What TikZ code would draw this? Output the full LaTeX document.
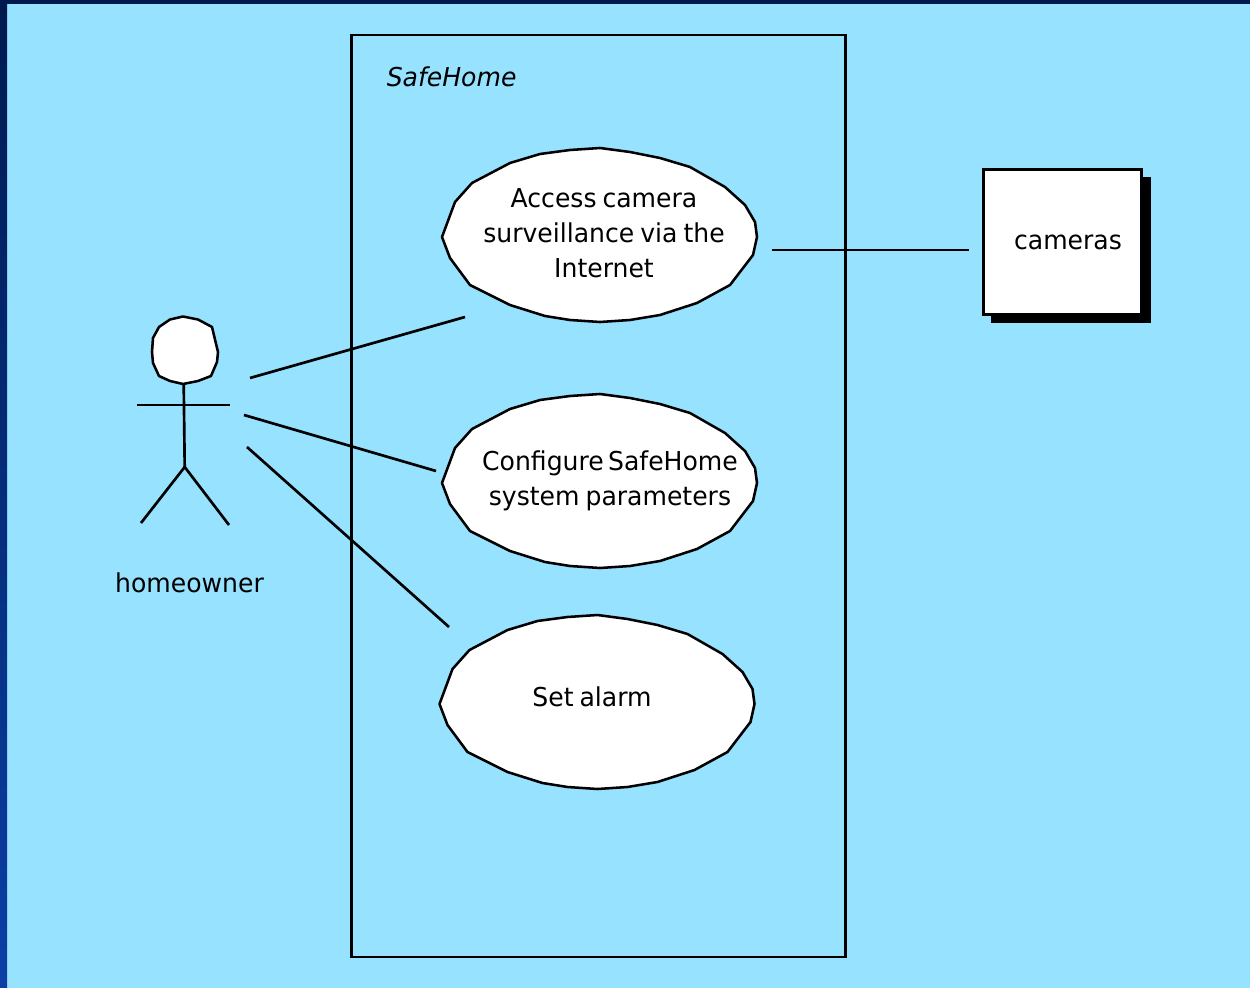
\documentclass[tikz,border=0pt]{standalone}
\usepackage{fontspec}
\setmainfont{DejaVu Sans}[FakeStretch=0.965,WordSpace=0.75]
\definecolor{skybg}{HTML}{96E2FF}
\definecolor{navytop}{HTML}{001A4F}
\definecolor{navybot}{HTML}{0A3FA5}
\newcommand{\ucaseshape}{(-158,2) -- (-145,-33) -- (-128,-52) -- (-90,-72) -- (-60,-81) -- (-30,-85) -- (0,-87) -- (30,-83) -- (60,-77) -- (90,-68) -- (125,-48) -- (145,-30) -- (155,-13) -- (157,2) -- (153,20) -- (130,50) -- (97,68) -- (60,80) -- (30,85) -- (0,87) -- (-30,85) -- (-55,81) -- (-90,70) -- (-130,50) -- (-150,23) -- cycle}
\tikzset{
  x=0.75pt,y=-0.75pt,
  line/.style={line width=2pt,black},
  usecase/.style={draw=black,line width=1.9pt,fill=white,line join=round},
  boxnode/.style={draw=black,line width=1.6pt,anchor=north west,inner sep=0pt,outer sep=0pt},
  txt/.style={font=\fontsize{19.5pt}{26.2pt}\selectfont,align=center,inner sep=0pt,text=black},
}
\begin{document}
\begin{tikzpicture}
\useasboundingbox (0,0) rectangle (1250,988);
\fill[skybg] (0,0) rectangle (1250,988);
\shade[top color=navytop,bottom color=navybot] (0,0) rectangle (7,988);
\fill[navytop] (0,0) rectangle (1250,4);
% system boundary
\node[boxnode,minimum width=0.75*494pt,minimum height=0.75*922pt] (system) at (351.5,35) {};
\node[txt,anchor=base west,font=\fontsize{19.5pt}{26pt}\selectfont\itshape] (syslabel) at (386.5,87) {SafeHome};
% use cases
\begin{scope}[shift={(600,235)}]
\draw[usecase] \ucaseshape;
\end{scope}
\begin{scope}[shift={(600,481)}]
\draw[usecase] \ucaseshape;
\end{scope}
\begin{scope}[shift={(597.5,702)}]
\draw[usecase] \ucaseshape;
\end{scope}
\node[txt] (uc1) at (604,233) {Access camera\\surveillance via the\\Internet};
\node[txt] (uc2) at (610,481) {Configure\,SafeHome\\system parameters};
\node[txt] (uc3) at (592,697) {Set alarm};
% cameras
\fill[black] (991,177) rectangle (1151,323);
\node[boxnode,fill=white,minimum width=0.75*158pt,minimum height=0.75*145pt] (camerabox) at (983.5,169.5) {};
\node[txt] (cameras) at (1068,242) {cameras};
% actor
\coordinate (neck) at (183.7,383);
\coordinate (hip) at (184.7,467);
\coordinate (armL) at (137,405);
\coordinate (armR) at (230,405);
\coordinate (legL) at (141,523);
\coordinate (legR) at (229,525);
\draw[usecase] (183,316.5) -- (198,319.5) -- (212,327) -- (218,352) -- (217,362) -- (211,376) -- (198,381) -- (183,384) -- (170,381) -- (159,376) -- (153,363) -- (152,352) -- (153,338) -- (159,327) -- (170,319.5) -- cycle;
\draw[line] (neck) -- (hip);
\draw[line] (armL) -- (armR);
\draw[line] (legL) -- (hip) -- (legR);
\node[txt] (actor) at (189.5,582.5) {homeowner};
% connectors
\coordinate (a1) at (250,378);
\coordinate (c1) at (465,317);
\coordinate (a2) at (244,415);
\coordinate (c2) at (436,471);
\coordinate (a3) at (247,447);
\coordinate (c3) at (449,627);
\coordinate (u1) at (772,250);
\coordinate (camL) at (969,250);
\draw[line] (a1) -- (c1);
\draw[line] (a2) -- (c2);
\draw[line] (a3) -- (c3);
\draw[line] (u1) -- (camL);
\end{tikzpicture}
\end{document}
